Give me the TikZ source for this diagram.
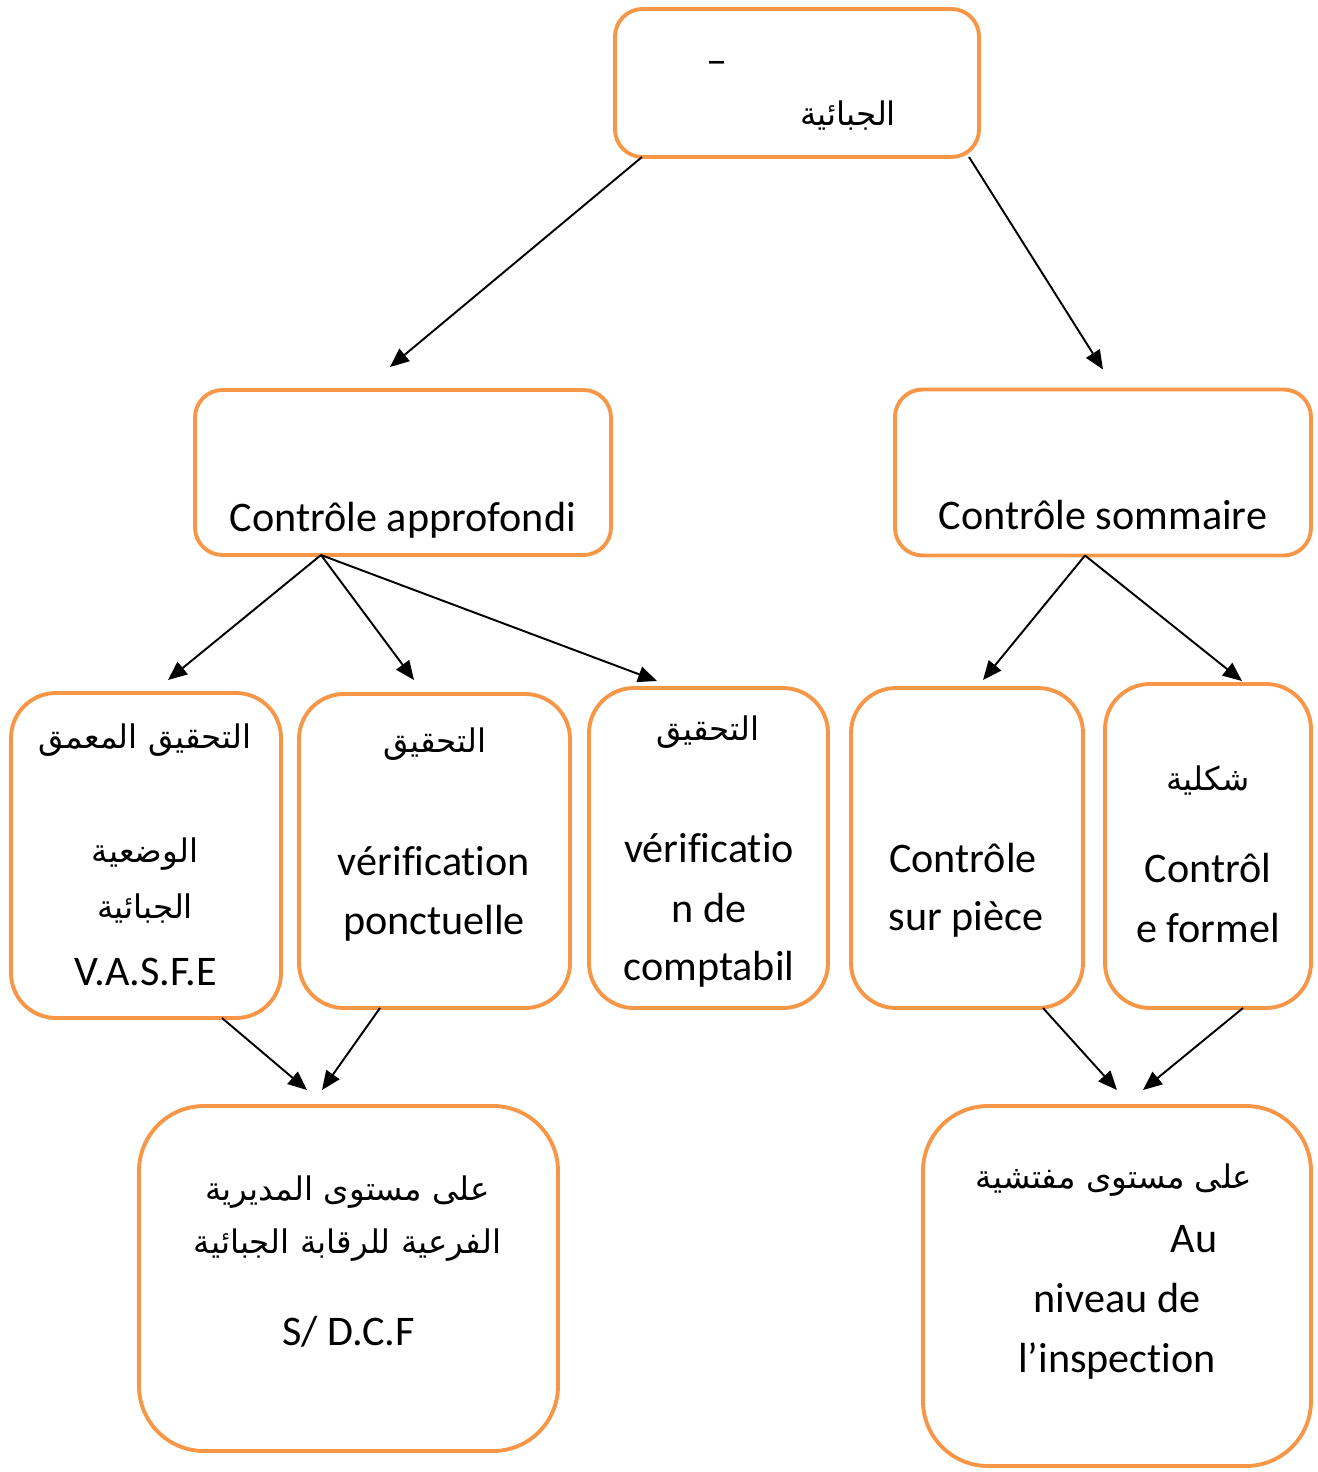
\documentclass[tikz,border=0pt]{standalone}
\usepackage{fontspec}
\setmainfont{Carlito}[Ligatures=CommonOff]
\newfontfamily\arabicfont[Script=Arabic]{DejaVu Sans}
\TeXXeTstate=1
\usepackage{tikz}
\usetikzlibrary{positioning,arrows.meta}
\definecolor{colorbox}  {RGB}{247,150,70}
\definecolor{colortext} {RGB}{0,0,0}

\begin{document}
\begin{tikzpicture}[
    font={\fontsize{24}{34}\selectfont},
    box/.style={draw=colorbox,line width=2.2pt,inner sep=0pt,outer sep=0pt,rounded corners=0.55cm},
    tallbox/.style={box,rounded corners=0.9cm},
    bigbox/.style={box,rounded corners=1.3cm},
    lat/.style={text=colortext,anchor=base,inner sep=0pt},
    ara/.style={lat,font={\fontsize{18.5}{26}\arabicfont}},
    arr/.style={-{Triangle[length=0.38cm,width=0.32cm]},line width=1.1pt},
]
    \useasboundingbox (0,0) rectangle (26.36,-29.44);

    % Boxes
    \node[box,minimum width=7.28cm,minimum height=2.96cm] (top) at (15.94,-1.66) {};
    \node[box,minimum width=8.32cm,minimum height=3.30cm] (appro) at (8.06,-9.45) {};
    \node[box,minimum width=8.32cm,minimum height=3.32cm,right=5.68cm of appro] (somm) {};
    \node[tallbox,minimum width=5.40cm,minimum height=6.50cm] (vasfe) at (2.92,-17.11) {};
    \node[tallbox,minimum width=5.42cm,minimum height=6.28cm,right=0.36cm of vasfe,yshift=0.09cm] (ponct) {};
    \node[tallbox,minimum width=4.78cm,minimum height=6.40cm,right=0.38cm of ponct,yshift=0.06cm] (compt) {};
    \node[tallbox,minimum width=4.64cm,minimum height=6.40cm,right=0.46cm of compt] (piece) {};
    \node[tallbox,minimum width=4.12cm,minimum height=6.48cm,right=0.44cm of piece,yshift=0.04cm] (formel) {};
    \node[bigbox,minimum width=8.38cm,minimum height=6.90cm] (sdcf) at (6.97,-25.57) {};
    \node[bigbox,minimum width=7.76cm,minimum height=7.20cm,right=7.30cm of sdcf,yshift=-0.15cm] (insp) {};

    % Text
    \node[lat,anchor=center] (topdash) at (14.34,-1.36) {–};
    \node[ara] (toptxt) at (16.96,-2.50) {\beginR الجبائية\endR};
    \node[lat] (approtxt) at (8.06,-10.62) {Contrôle approfondi};
    \node[lat] (sommtxt) at (22.06,-10.58) {Contrôle sommaire};

    \node[ara] (vasfeA) at (2.90,-14.96) {\beginR التحقيق المعمق\endR};
    \node[ara] (vasfeB) at (2.90,-17.24) {\beginR الوضعية\endR};
    \node[ara] (vasfeC) at (2.90,-18.36) {\beginR الجبائية\endR};
    \node[lat] (vasfeD) at (2.92,-19.70) {V.A.S.F.E};

    \node[ara] (ponctA) at (8.70,-15.04) {\beginR التحقيق\endR};
    \node[lat] (ponctB) at (8.68,-17.50) {vérification};
    \node[lat] (ponctC) at (8.68,-18.68) {ponctuelle};

    \node[ara] (comptA) at (14.16,-14.80) {\beginR التحقيق\endR};
    \node[lat] (comptB) at (14.18,-17.24) {vérificatio};
    \node[lat] (comptC) at (14.18,-18.44) {n de};
    \node[lat] (comptD) at (14.18,-19.60) {comptabil};

    \node[lat] (pieceA) at (19.26,-17.44) {Contrôle};
    \node[lat] (pieceB) at (19.32,-18.60) {sur pièce};

    \node[ara] (formelA) at (24.16,-15.80) {\beginR شكلية\endR};
    \node[lat] (formelB) at (24.16,-17.64) {Contrôl};
    \node[lat] (formelC) at (24.16,-18.84) {e formel};

    \node[ara] (sdcfA) at (6.95,-24.00) {\beginR على مستوى المديرية\endR};
    \node[ara] (sdcfB) at (6.95,-25.06) {\beginR الفرعية للرقابة الجبائية\endR};
    \node[lat] (sdcfC) at (6.97,-26.90) {S/ D.C.F};

    \node[ara] (inspA) at (22.28,-23.76) {\beginR على مستوى مفتشية\endR};
    \node[lat] (inspB) at (23.88,-25.04) {Au};
    \node[lat] (inspC) at (22.34,-26.24) {niveau de};
    \node[lat] (inspD) at (22.34,-27.44) {l’inspection};

    % Arrows
    \draw[arr] ([xshift=0.54cm]top.south west) -- ([xshift=-0.26cm,yshift=0.46cm]appro.north);
    \draw[arr] ([xshift=-0.20cm]top.south east) -- ([yshift=0.40cm]somm.north);
    \draw[arr] ([xshift=-1.64cm]appro.south) -- ([xshift=0.44cm,yshift=0.26cm]vasfe.north);
    \draw[arr] ([xshift=-1.64cm]appro.south) -- ([xshift=-0.41cm,yshift=0.28cm]ponct.north);
    \draw[arr] ([xshift=-1.64cm]appro.south) -- ([xshift=-1.03cm,yshift=0.14cm]compt.north);
    \draw[arr] ([xshift=-0.36cm]somm.south) -- ([xshift=0.32cm,yshift=0.16cm]piece.north);
    \draw[arr] ([xshift=-0.36cm]somm.south) -- ([xshift=0.68cm,yshift=0.06cm]formel.north);
    \draw[arr] ([xshift=1.52cm]vasfe.south) -- ([xshift=-0.83cm,yshift=0.32cm]sdcf.north);
    \draw[arr] ([xshift=-1.09cm]ponct.south) -- ([xshift=-0.53cm,yshift=0.32cm]sdcf.north);
    \draw[arr] ([xshift=1.52cm]piece.south) -- ([yshift=0.32cm]insp.north);
    \draw[arr] ([xshift=0.70cm]formel.south) -- ([xshift=0.52cm,yshift=0.32cm]insp.north);

\end{tikzpicture}
\end{document}
